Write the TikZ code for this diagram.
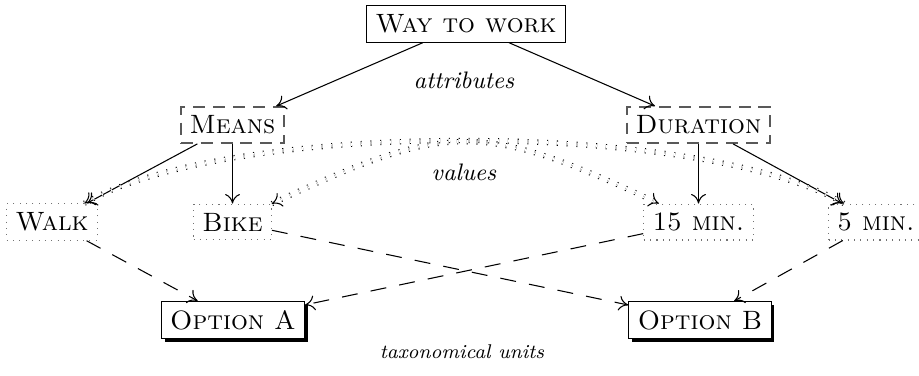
\documentclass[tikz,border=0pt]{standalone}
\usetikzlibrary{shadows,arrows.meta}
\begin{document}
\begin{tikzpicture}[x=0.377pt,y=-0.377pt,
  >={To[length=3.6pt,width=5.6pt]},
  topbox/.style={draw, fill=white},
  attrbox/.style={draw=black!65, semithick, dash pattern=on 4.5pt off 3pt},
  valbox/.style={draw=black!55, dotted},
  unitbox/.style={draw, fill=white,
    drop shadow={shadow xshift=1.2pt, shadow yshift=-1.2pt, opacity=1, fill=black}},
  link/.style={->},
  assign/.style={->, dash pattern=on 6pt off 5pt},
  contrast/.style={double, double distance=1.2pt, dash pattern=on 0.4pt off 3.3pt},
  contrasttips/.style={<->, dash pattern=on 0pt off 5000pt},
  tag/.style={font=\small\itshape}]
\useasboundingbox (0,0) rectangle (919,375);

% concept
\node[topbox] (way) at (466,24) {\textsc{Way to work}};

% attributes
\node[attrbox] (means) at (232.5,125) {\textsc{Means}};
\node[attrbox] (duration) at (698.5,125) {\textsc{Duration}};

% values
\node[valbox] (walk) at (52,222) {\textsc{Walk}};
\node[valbox] (bike) at (232.5,222) {\textsc{Bike}};
\node[valbox] (m15) at (698.5,222) {\textsc{15 min.}};
\node[valbox] (m5) at (876,222) {\textsc{5 min.}};

% taxonomical units
\node[unitbox] (optA) at (233,320) {\textsc{Option A}};
\node[unitbox] (optB) at (700,320) {\textsc{Option B}};

% level labels
\node[tag] (attrlabel) at (464,80) {attributes};
\node[tag] (vallabel) at (464,172) {values};
\node[tag, font=\fontsize{7.5}{9}\selectfont\itshape] (unitlabel) at (462,352) {taxonomical units};

% hierarchy
\draw[link] (way) -- (means);
\draw[link] (way) -- (duration);
\draw[link] (means) -- (walk);
\draw[link] (means) -- (bike);
\draw[link] (duration) -- (m15);
\draw[link] (duration) -- (m5);

% contrasting values: double dotted arcs, with solid heads drawn on the same arcs
\draw[contrast] (walk) .. controls +(-30:205) and +(-150:205) .. (m5);
\draw[contrast] (bike) .. controls +(-25:239) and +(-155:239) .. (m15);
\draw[contrasttips] (walk) .. controls +(-30:205) and +(-150:205) .. (m5);
\draw[contrasttips] (bike) .. controls +(-25:239) and +(-155:239) .. (m15);

% value assignment
\draw[assign] (walk) -- (optA);
\draw[assign] (bike) -- (optB);
\draw[assign] (m15) -- (optA);
\draw[assign] (m5) -- (optB);
\end{tikzpicture}
\end{document}
